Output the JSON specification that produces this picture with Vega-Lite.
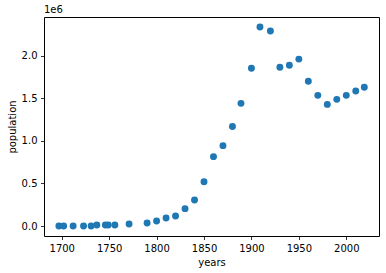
{
  "$schema": "https://vega.github.io/schema/vega-lite/v6.json",
  "autosize": "none",
  "width": 335,
  "height": 219,
  "padding": {"left": 44, "top": 17, "right": 7, "bottom": 37},
  "background": "white",
  "title": {"text": "1e6", "anchor": "start", "frame": "group", "fontSize": 10, "font": "DejaVu Sans", "fontWeight": "normal", "color": "black", "offset": 2},
  "data": {"values": [
    {"years": 1697, "population": 0},
    {"years": 1702, "population": 0},
    {"years": 1712, "population": 0},
    {"years": 1723, "population": 0},
    {"years": 1731, "population": 0},
    {"years": 1737, "population": 12000},
    {"years": 1746, "population": 12000},
    {"years": 1749, "population": 12000},
    {"years": 1756, "population": 12000},
    {"years": 1771, "population": 24000},
    {"years": 1790, "population": 35000},
    {"years": 1800, "population": 60000},
    {"years": 1810, "population": 94000},
    {"years": 1820, "population": 118000},
    {"years": 1830, "population": 204000},
    {"years": 1840, "population": 306000},
    {"years": 1850, "population": 519000},
    {"years": 1860, "population": 814000},
    {"years": 1870, "population": 943000},
    {"years": 1880, "population": 1167000},
    {"years": 1889, "population": 1439000},
    {"years": 1900, "population": 1851000},
    {"years": 1909, "population": 2335000},
    {"years": 1920, "population": 2288000},
    {"years": 1930, "population": 1863000},
    {"years": 1940, "population": 1887000},
    {"years": 1950, "population": 1958000},
    {"years": 1960, "population": 1698000},
    {"years": 1970, "population": 1533000},
    {"years": 1980, "population": 1427000},
    {"years": 1990, "population": 1486000},
    {"years": 2000, "population": 1533000},
    {"years": 2010, "population": 1584000},
    {"years": 2019, "population": 1627000}
  ]},
  "mark": {"type": "point", "filled": true, "opacity": 1, "color": "#1f77b4", "size": 48},
  "encoding": {
    "x": {"field": "years", "type": "quantitative",
      "scale": {"domain": [1681.3, 2034.5], "nice": false, "zero": false},
      "axis": {"values": [1700, 1750, 1800, 1850, 1900, 1950, 2000], "format": "d", "title": "years"}},
    "y": {"field": "population", "type": "quantitative",
      "scale": {"domain": [-117000, 2452000], "nice": false, "zero": false},
      "axis": {"values": [0, 500000, 1000000, 1500000, 2000000], "labelExpr": "format(datum.value/1e6, '.1f')", "title": "population"}}
  },
  "config": {
    "view": {"stroke": "black", "strokeWidth": 1},
    "axis": {
      "grid": false,
      "domain": false,
      "tickColor": "black",
      "tickSize": 3.5,
      "tickWidth": 0.8,
      "labelFont": "DejaVu Sans",
      "labelFontSize": 10,
      "labelColor": "black",
      "labelPadding": 3.5,
      "titleFont": "DejaVu Sans",
      "titleFontSize": 10,
      "titleFontWeight": "normal",
      "titleColor": "black",
      "titlePadding": 4
    }
  }
}
